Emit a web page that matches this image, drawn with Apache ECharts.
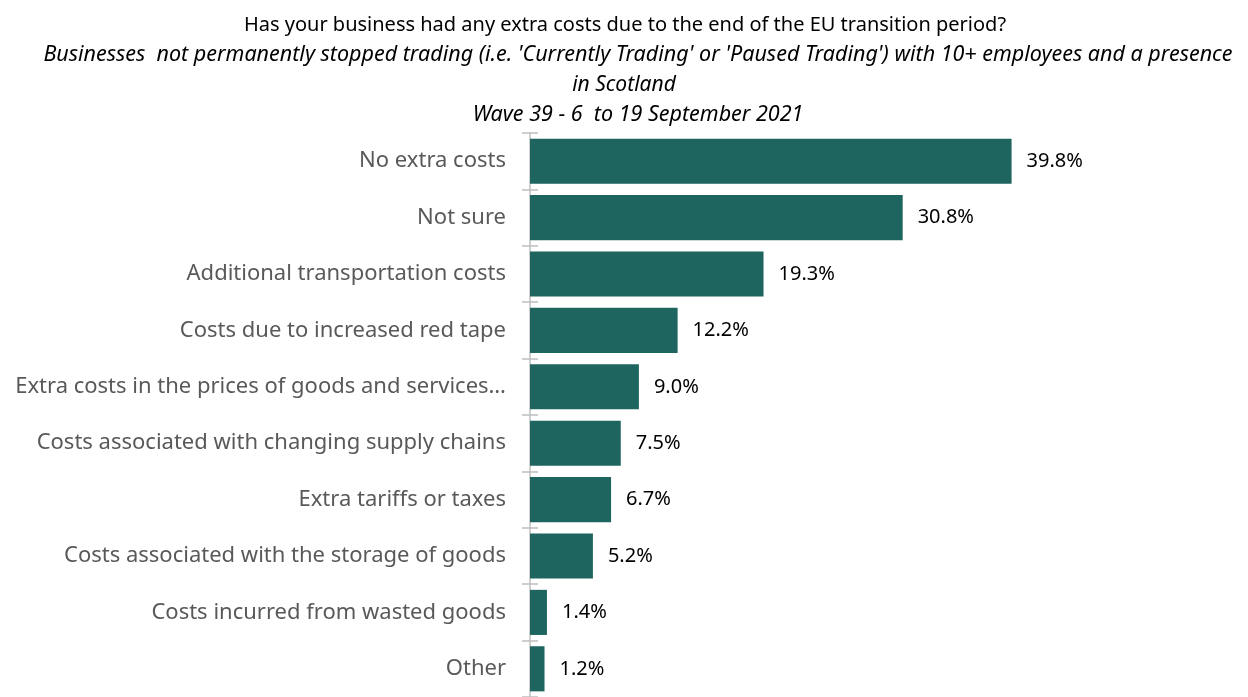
<!DOCTYPE html>
<html>
<head>
<meta charset="utf-8">
<script src="https://cdn.jsdelivr.net/npm/echarts@6/dist/echarts.min.js"></script>
<style>
  html, body { margin: 0; padding: 0; background: #ffffff; }
  #chart { width: 1248px; height: 697px; }
</style>
</head>
<body>
<div id="chart"></div>
<script>
// Extra costs due to the end of the EU transition period (% of businesses)
const categories = [
  'No extra costs',
  'Not sure',
  'Additional transportation costs',
  'Costs due to increased red tape',
  'Extra costs in the prices of goods and services…',
  'Costs associated with changing supply chains',
  'Extra tariffs or taxes',
  'Costs associated with the storage of goods',
  'Costs incurred from wasted goods',
  'Other'
];
const values = [39.8, 30.8, 19.3, 12.2, 9.0, 7.5, 6.7, 5.2, 1.4, 1.2];

const titleLines = [
  'Has your business had any extra costs due to the end of the EU transition period?',
  "Businesses  not permanently stopped trading (i.e. 'Currently Trading' or 'Paused Trading') with 10+ employees and a presence",
  'in Scotland',
  'Wave 39 - 6  to 19 September 2021'
];
// centre point and style of each heading line
const titleX = [625, 638, 624, 638];
const titleY = [25, 55, 85, 115];
const titleSize = [20, 21.5, 21, 21.5];
const titleItalic = [false, true, true, true];

const FONT = '"Noto Sans", sans-serif';
const BAR = '#1e655f';
const AXIS = '#bfbfbf';

const chart = echarts.init(document.getElementById('chart'), null, { renderer: 'canvas' });

chart.setOption({
  backgroundColor: '#ffffff',
  animation: false,
  graphic: titleLines.map((t, i) => ({
    type: 'text',
    x: titleX[i],
    y: titleY[i],
    style: {
      text: t,
      fill: '#000000',
      font: (titleItalic[i] ? 'italic ' : '') + titleSize[i] + 'px ' + FONT,
      align: 'center',
      verticalAlign: 'middle'
    }
  })),
  grid: { left: 530, top: 133, width: 484, height: 573, containLabel: false },
  xAxis: { type: 'value', min: 0, max: 40, show: false },
  yAxis: [
    {
      type: 'category',
      data: categories,
      inverse: true,
      axisLine: { show: true, lineStyle: { color: AXIS, width: 1.5 } },
      axisTick: { show: true, length: 8, lineStyle: { color: AXIS, width: 1.5 } },
      axisLabel: { fontFamily: FONT, fontSize: 22, color: '#595959', margin: 24 }
    },
    {
      type: 'category',
      data: categories,
      inverse: true,
      position: 'left',
      axisLine: { show: false },
      axisTick: { show: true, inside: true, length: 8, lineStyle: { color: AXIS, width: 1.5 } },
      axisLabel: { show: false }
    }
  ],
  series: [{
    type: 'bar',
    yAxisIndex: 0,
    data: values,
    barCategoryGap: '20%',
    itemStyle: { color: BAR },
    label: {
      show: true,
      position: 'right',
      distance: 15,
      fontFamily: FONT,
      fontSize: 20,
      color: '#000000',
      formatter: p => p.value.toFixed(1) + '%'
    }
  }]
});
</script>
</body>
</html>
